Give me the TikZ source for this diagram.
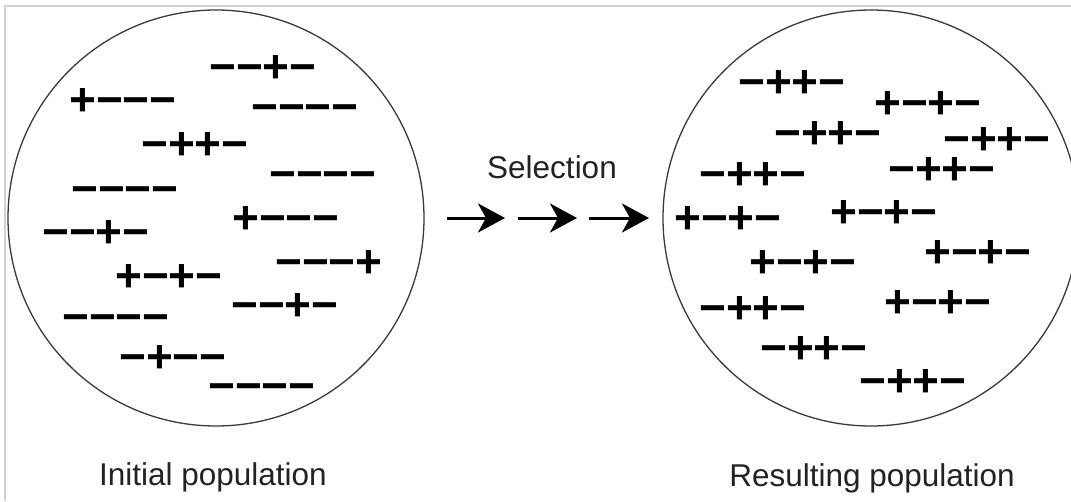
\documentclass[tikz,border=0pt]{standalone}
\usepackage{fontspec}
\setmainfont{Liberation Sans}
\usetikzlibrary{arrows.meta}
\definecolor{framegray}{HTML}{D2D2D2}
\definecolor{ringgray}{HTML}{3A3A3A}
\definecolor{labelgray}{HTML}{222222}
\tikzset{
  pop/.style={draw=ringgray, line width=1.3pt, circle, minimum size=416pt, inner sep=0pt},
  pm/.style={font=\fontsize{46}{46}\selectfont\bfseries, inner sep=0pt, anchor=base west,
             xshift=-3pt, yshift=-15.6pt},
  caption/.style={font=\fontsize{31.5}{31.5}\selectfont, text=labelgray, inner sep=0pt, anchor=base},
  selarrow/.style={line width=3pt, -{Stealth[length=27pt,width=29pt,inset=8pt]}},
}
\begin{document}
\begin{tikzpicture}[x=1pt,y=-1pt]
  \useasboundingbox (0,0) rectangle (1071,501);
  \fill[white] (0,0) rectangle (1071,501);
  % page frame
  \draw[framegray, line width=2pt] (1071,6) -- (5,6) -- (5,501);

  \begin{scope}
    \clip (0,0) rectangle (1071,501);
    \node[pop] (initial) at (216,218) {};
    \node[pop] (result) at (871,218) {};
  \end{scope}

  % initial population
  \node[pm] (i1) at (212,67) {−−+−};
  \node[pm] (i2) at (72,100) {+−−−};
  \node[pm] (i3) at (254,107) {−−−−};
  \node[pm] (i4) at (144,144) {−++−};
  \node[pm] (i5) at (272,174) {−−−−};
  \node[pm] (i6) at (74,189) {−−−−};
  \node[pm] (i7) at (235,218) {+−−−};
  \node[pm] (i8) at (45,232) {−−+−};
  \node[pm] (i9) at (278,262) {−−−+};
  \node[pm] (i10) at (118,276) {+−+−};
  \node[pm] (i11) at (234,305) {−−+−};
  \node[pm] (i12) at (65,317) {−−−−};
  \node[pm] (i13) at (122,357) {−+−−};
  \node[pm] (i14) at (211,386) {−−−−};

  % resulting population
  \node[pm] (r1) at (741,82) {−++−};
  \node[pm] (r2) at (877,103) {+−+−};
  \node[pm] (r3) at (777,133) {−++−};
  \node[pm] (r4) at (946,139) {−++−};
  \node[pm] (r5) at (702,174) {−++−};
  \node[pm] (r6) at (891,169) {−++−};
  \node[pm] (r7) at (677,218) {+−+−};
  \node[pm] (r8) at (833,212) {+−+−};
  \node[pm] (r9) at (927,252) {+−+−};
  \node[pm] (r10) at (752,262) {+−+−};
  \node[pm] (r11) at (702,308) {−++−};
  \node[pm] (r12) at (887,302) {+−+−};
  \node[pm] (r13) at (763,348) {−++−};
  \node[pm] (r14) at (862,381) {−++−};

  % selection arrows
  \coordinate (s0) at (447,218);
  \coordinate (s1) at (505,218);
  \coordinate (s2) at (518,218);
  \coordinate (s3) at (577,218);
  \coordinate (s4) at (589,218);
  \coordinate (s5) at (649,218);
  \draw[selarrow] (s0) -- (s1);
  \draw[selarrow] (s2) -- (s3);
  \draw[selarrow] (s4) -- (s5);

  \node[caption] (sel) at (552,178) {Selection};
  \node[caption] (lblinit) at (213,485) {Initial population};
  \node[caption] (lblres) at (872,486) {Resulting population};
\end{tikzpicture}
\end{document}
